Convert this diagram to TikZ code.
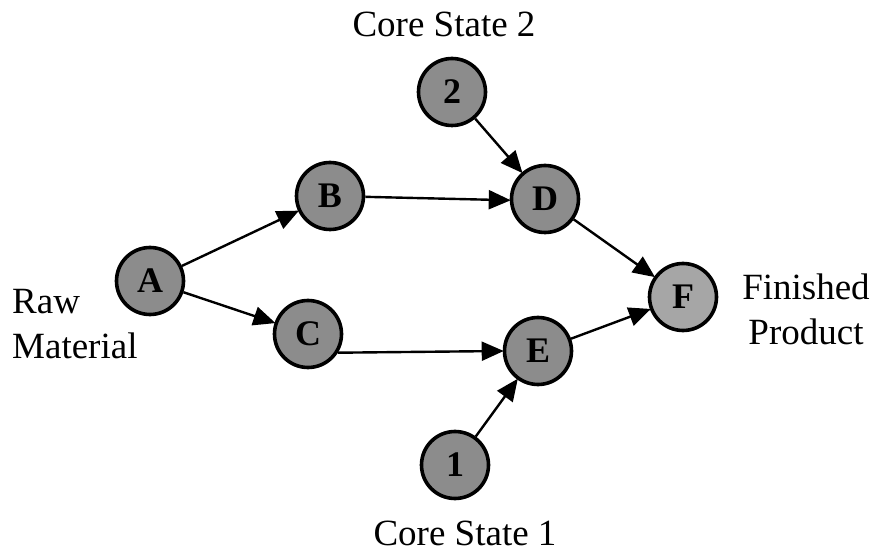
\documentclass[tikz,border=0pt]{standalone}
\usepackage{fontspec}
\setmainfont{Liberation Serif}
\usetikzlibrary{arrows.meta}

\tikzset{
  state/.style={circle, draw=black, line width=3.6pt, fill=black!45,
    minimum size=67pt, inner sep=0pt,
    font=\fontsize{36}{36}\selectfont\bfseries, text=black},
  flow/.style={line width=2.4pt, -{Triangle[length=22pt,width=19pt]}, shorten >=-1pt},
  caption/.style={font=\fontsize{37}{45}\selectfont, inner sep=0pt}
}

\begin{document}
\begin{tikzpicture}[x=1pt, y=1pt]
  \useasboundingbox (0,0) rectangle (870,552);

  % process states
  \node[state] (A)  at (150,271) {A};
  \node[state] (B)  at (330,356) {B};
  \node[state] (C)  at (308,218) {C};
  \node[state] (S2) at (452,460) {2};
  \node[state] (D)  at (545,353) {D};
  \node[state] (E)  at (538,201) {E};
  \node[state] (S1) at (455,87)  {1};
  \node[state, fill=black!35] (F) at (683,255) {F};

  % labels
  \node[caption, align=left, anchor=west] (raw) at (12,228) {Raw\\Material};
  \node[caption, align=center] (fin) at (806,243) {Finished\\Product};
  \node[caption, anchor=base] (cs2) at (444,515) {Core State 2};
  \node[caption, anchor=base] (cs1) at (465,7) {Core State 1};

  % flows
  \draw[flow] (A) -- (B);
  \draw[flow] (A) -- (C);
  \draw[flow] (B) -- (D.182);
  \draw[flow] (S2) -- (D);
  \draw[flow] (D) -- (F);
  \draw[flow] (C.-32) -- (E.180);
  \draw[flow] (S1) -- (E);
  \draw[flow] (E) -- (F);
\end{tikzpicture}
\end{document}
